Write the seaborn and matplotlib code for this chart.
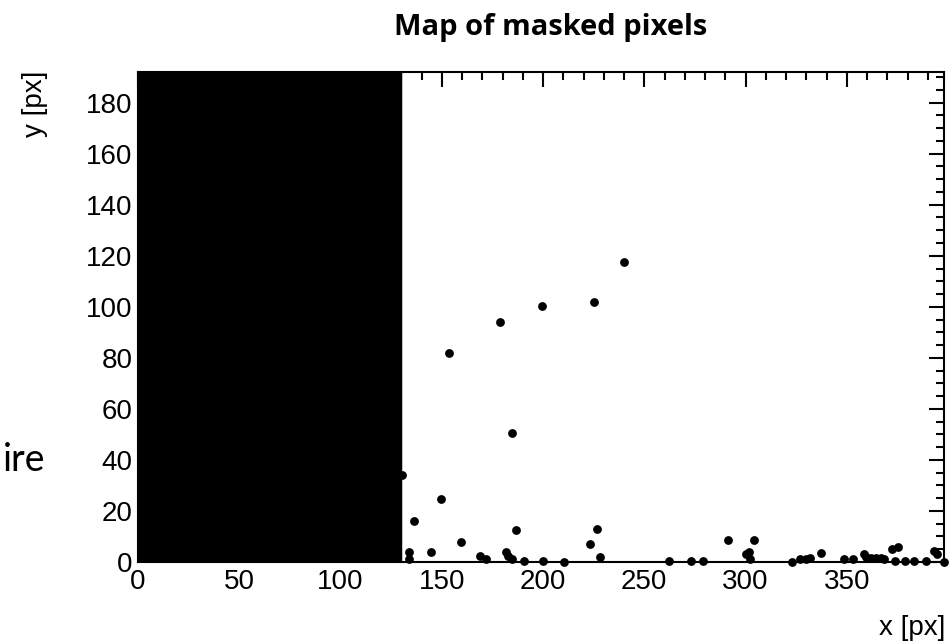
import numpy as np
import pandas as pd
import matplotlib
matplotlib.use("Agg")
import matplotlib.pyplot as plt
import seaborn as sns
from matplotlib.ticker import MultipleLocator

# ---------------- data ----------------
title = "Map of masked pixels"
x_label = "x [px]"
y_label = "y [px]"
side_text = "ire"

# fully masked block of columns
block_x = [0, 129.5]
block_y = [0, 192]

# individually masked pixels
pix_x = [240, 225, 199.5, 179, 153.5, 184.5, 130.5, 149.5, 136.5, 159.5,
         186.5, 223, 226.5, 134, 134, 144.5, 169, 172, 181.5, 182.5,
         184.5, 190.5, 200, 210.5, 228, 262, 273, 279, 291.5, 300,
         301.5, 302, 304, 323, 327, 330, 332, 337.5, 348.5, 353,
         358.5, 359.5, 362, 364.5, 367, 368.5, 372.5, 375.5, 374, 378.5,
         383, 389, 393, 394.5, 398]
pix_y = [117.5, 102, 100.5, 94, 82, 50.5, 34, 24.5, 16, 8,
         12.5, 7, 13, 4, 1, 4, 2.5, 1, 4, 2.5,
         1, 0.5, 0.5, 0, 2, 0.5, 0.5, 0.5, 8.5, 3,
         4, 1, 8.5, 0, 1, 1, 1.5, 3.5, 1, 1,
         3, 2, 1.5, 1.5, 1.5, 1, 5, 6, 0.5, 0.5,
         0.5, 0.5, 4.5, 3, 0]

x_ticks = [0, 50, 100, 150, 200, 250, 300, 350]
y_ticks = [0, 20, 40, 60, 80, 100, 120, 140, 160, 180]
x_range = [0, 398]
y_range = [0, 192]

# ---------------- style ----------------
sns.set_style("white")
plt.rcParams['font.family'] = ['Liberation Sans', 'DejaVu Sans']
plt.rcParams['text.color'] = 'black'
plt.rcParams['xtick.color'] = 'black'
plt.rcParams['ytick.color'] = 'black'
plt.rcParams['xtick.labelcolor'] = 'black'
plt.rcParams['ytick.labelcolor'] = 'black'

fig = plt.figure(figsize=(9.5, 6.43), dpi=100)
ax = fig.add_axes([138 / 950, 1 - 562 / 643, (944 - 138) / 950, (562 - 72) / 643])

ax.fill_between(block_x, block_y[0], block_y[1], color='black',
                edgecolor='black', linewidth=2.5, zorder=2)

df = pd.DataFrame({'x': pix_x, 'y': pix_y})
sns.scatterplot(data=df, x='x', y='y', ax=ax, color='black', s=40,
                edgecolor='black', linewidth=0, zorder=3, clip_on=False,
                legend=False)

ax.set_xlim(*x_range)
ax.set_ylim(*y_range)
ax.set_xticks(x_ticks)
ax.set_yticks(y_ticks)
ax.xaxis.set_minor_locator(MultipleLocator(10))
ax.yaxis.set_minor_locator(MultipleLocator(5))
ax.tick_params(which='both', direction='in', top=True, right=True,
               width=1.5, color='black', labelcolor='black')
ax.tick_params(which='major', length=11, labelsize=20, pad=4)
ax.tick_params(which='minor', length=6)
ax.tick_params(axis='x', which='major', pad=5)
ax.set_xlabel("")
ax.set_ylabel("")
for sp in ax.spines.values():
    sp.set_linewidth(1.5)
    sp.set_color('black')
    sp.set_zorder(5)

fig.text(945 / 950, 1 - 628 / 643, x_label, ha='right', va='center',
         fontsize=20, color='black')
fig.text(35 / 950, 1 - 71 / 643, y_label, ha='center', va='top',
         rotation=90, fontsize=20, color='black')
fig.text(551 / 950, 1 - 28 / 643, title, ha='center', va='center',
         fontsize=21, fontweight='bold', color='black',
         family=['Open Sans', 'DejaVu Sans'])
fig.text(45 / 950, 1 - 460 / 643, side_text, ha='right', va='center',
         fontsize=27, color='black', family=['Lato', 'DejaVu Sans'])

fig.savefig("out.png", dpi=100)
